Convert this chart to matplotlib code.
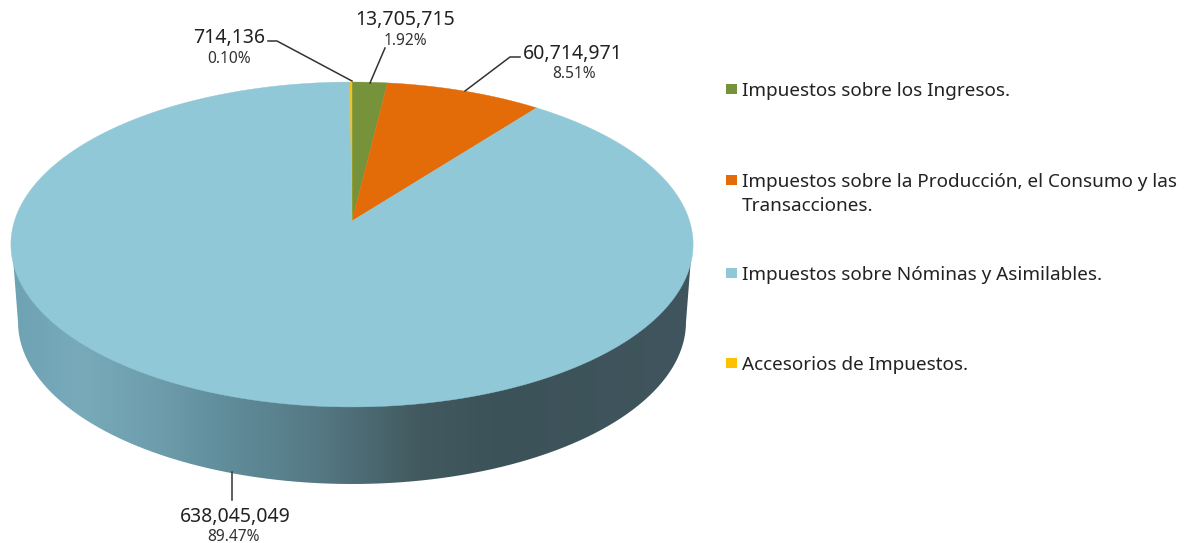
import numpy as np
import matplotlib
matplotlib.use("Agg")
import matplotlib.pyplot as plt
from matplotlib.colors import LinearSegmentedColormap
from matplotlib.patches import PathPatch, Rectangle
from matplotlib.path import Path

# Data, clockwise from 12 o'clock
categories = ['Impuestos sobre los Ingresos.',
              'Impuestos sobre la Producción, el Consumo y las\nTransacciones.',
              'Impuestos sobre Nóminas y Asimilables.',
              'Accesorios de Impuestos.']
values = [13705715, 60714971, 638045049, 714136]
percents = ['1.92%', '8.51%', '89.47%', '0.10%']
colors = ['#76933c', '#e36c09', '#90c8d8', '#ffc000']

plt.rcParams['font.family'] = ['Noto Sans', 'DejaVu Sans']
text_color = '#222222'

fig = plt.figure(figsize=(11.92, 5.43), dpi=100)
ax = fig.add_axes([0, 0, 1, 1])
ax.set_xlim(0, 1192)
ax.set_ylim(543, 0)
ax.axis('off')

# Perspective of the top face: unit disc -> pixels
cx, apex_y, rx = 352.0, 221.0, 337.5
persp = 0.1446
def project(t):
    x, y = np.sin(t), np.cos(t)
    d = 1 + persp * y
    return cx + rx * x / d, (apex_y - 127.1 * y) / d

# Side wall: lower half of the bottom rim, joined to the top rim
t = np.linspace(0, np.pi, 200)
wall_x = np.concatenate([[692.0], 352 + 334 * np.cos(t), [12.0]])
wall_y = np.concatenate([[245.0], 322 + 162 * np.sin(t), [245.0]])
wall = PathPatch(Path(np.column_stack([wall_x, wall_y])), fc='none', ec='none')
ax.add_patch(wall)

shade = LinearSegmentedColormap.from_list('shade', [
    (0.00, '#6ea3b3'), (0.10, '#78aaba'), (0.20, '#6f9fae'), (0.33, '#5f8a98'),
    (0.45, '#557985'), (0.60, '#42595f'), (0.72, '#3c5259'), (1.00, '#40555d')])
img = ax.imshow(np.linspace(0, 1, 512).reshape(1, -1), cmap=shade, aspect='auto',
                extent=(12, 692, 490, 240), zorder=1)
img.set_clip_path(wall)
ax.set_xlim(0, 1192)
ax.set_ylim(543, 0)

# Top face
edges = np.cumsum([0] + values) / sum(values) * 2 * np.pi
for i, color in enumerate(colors):
    t = np.linspace(edges[i], edges[i + 1], 400)
    px, py = project(t)
    ax.fill(np.r_[cx, px], np.r_[apex_y, py], color=color, lw=0.3, zorder=2)

# Leader lines
line_kw = dict(color='#333333', lw=1.1, zorder=3)
ax.plot([268, 277, 352], [41, 41, 81], **line_kw)
ax.plot([385, 370], [48, 83], **line_kw)
ax.plot([520, 510, 465], [57, 57, 91], **line_kw)
ax.plot([231.5, 231.5], [472, 500], **line_kw)

# Data labels
label_pos = [(405, 20, 405, 41), (573, 54, 574, 74),
             (235, 517, 234, 537), (229.5, 38, 229, 59)]
for v, p, (x1, y1, x2, y2) in zip(values, percents, label_pos):
    ax.text(x1, y1, f'{v:,}', fontsize=14, ha='center', va='center', color=text_color)
    ax.text(x2, y2, p, fontsize=11.2, ha='center', va='center', color='#333333')

# Legend
legend_y = [89, 180, 273, 363]
for name, color, y in zip(categories, colors, legend_y):
    ax.add_patch(Rectangle((726, y - 5), 11, 10, fc=color, ec='none'))
    ax.text(742, y - 7, name, fontsize=13.65, ha='left', va='top', color=text_color,
            linespacing=1.42)

fig.savefig('out.png', dpi=100)
